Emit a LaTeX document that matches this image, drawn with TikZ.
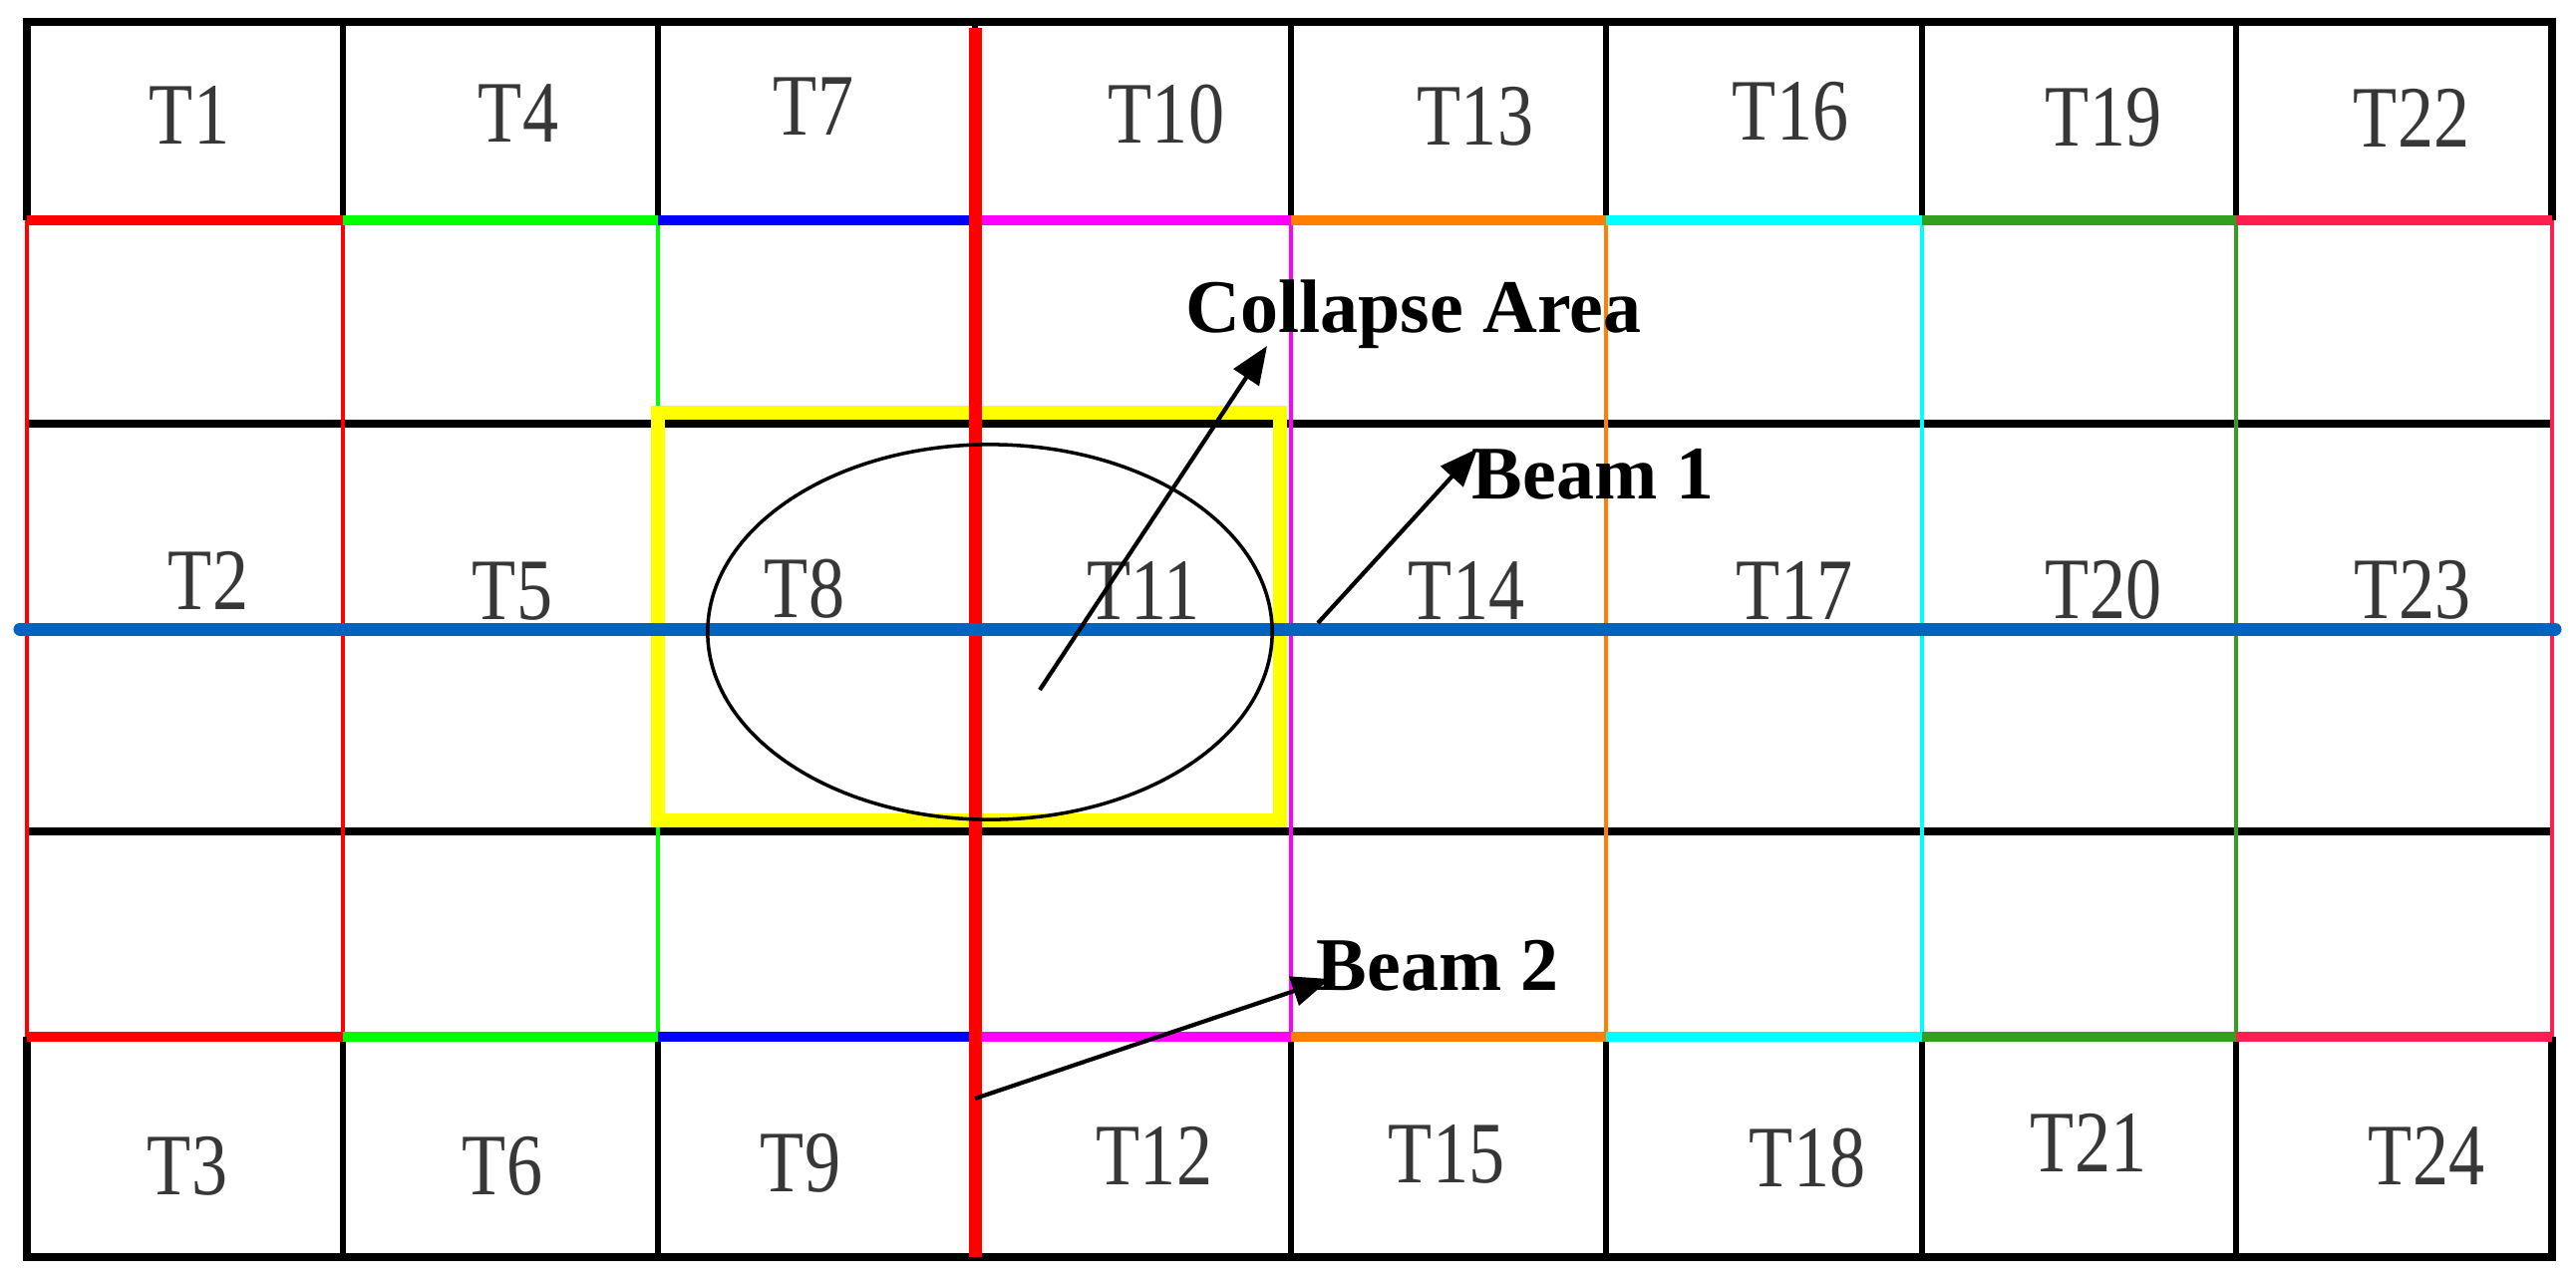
\documentclass[tikz,border=0pt]{standalone}
\usepackage{fontspec}
\setmainfont{Liberation Serif}
\newfontfamily\cellfont[FakeStretch=0.82]{Liberation Serif}
\usetikzlibrary{arrows.meta}
\definecolor{cRed}{RGB}{255,0,0}
\definecolor{cGreen}{RGB}{0,255,0}
\definecolor{cBlue}{RGB}{0,0,255}
\definecolor{cMagenta}{RGB}{255,0,255}
\definecolor{cOrange}{RGB}{255,128,0}
\definecolor{cCyan}{RGB}{0,255,255}
\definecolor{cDkGreen}{RGB}{50,160,30}
\definecolor{cCrimson}{RGB}{255,30,80}
\definecolor{cYellow}{RGB}{255,255,0}
\definecolor{cBeam}{RGB}{0,100,190}
\definecolor{labelgray}{RGB}{55,55,55}
\begin{document}
\begin{tikzpicture}[x=0.01cm,y=-0.01cm,
  cell/.style={font=\cellfont\fontsize{25}{30}\selectfont, text=labelgray, inner sep=0pt},
  callout/.style={font=\bfseries\fontsize{21.6}{26}\selectfont, inner sep=0pt, anchor=base west},
  border/.style={line width=2.1pt, black},
  gridv/.style={line width=1.6pt, black},
  gridh/.style={line width=2pt, black},
  frameh/.style={line width=2.6pt},
  framev/.style={line width=1.4pt},
  axis/.style={line width=3.7pt, cRed},
  zone/.style={line width=4pt, cYellow},
  beamline/.style={line width=3.7pt, cBeam, line cap=round},
  pointer/.style={line width=1.2pt, black, -{Triangle[length=0.38cm, width=0.3cm]}}]
\useasboundingbox (0,0) rectangle (2584,1281);
\fill[white] (0,0) rectangle (2584,1281);
% black grid lines in the middle region
\draw[gridh] (27,425) -- (2560,425);
\draw[gridh] (27,834) -- (2560,834);
% top and bottom row verticals
\foreach \x in {344,660,978,1295,1611,1928,2243} {
  \draw[gridv] (\x,22) -- (\x,221);
  \draw[gridv] (\x,1040) -- (\x,1261);
}
% outer border
\draw[border] (27,221) -- (27,22) -- (2560,22) -- (2560,221);
\draw[border] (27,1040) -- (27,1261) -- (2560,1261) -- (2560,1040);
% coloured frames
\draw[framev,cRed] (27,221) -- (27,1040);
\foreach \a/\b/\c in {27/344/cRed, 344/660/cGreen, 660/978/cBlue, 978/1295/cMagenta, 1295/1611/cOrange, 1611/1928/cCyan, 1928/2243/cDkGreen, 2243/2560/cCrimson} {
  \draw[framev,\c] (\b,221) -- (\b,1040);
  \draw[frameh,\c] (\a,221) -- (\b,221);
  \draw[frameh,\c] (\a,1040) -- (\b,1040);
}
% yellow collapse zone
\draw[zone] (660,414) rectangle (1284,823);
% red axis
\draw[axis] (978,28) -- (978,1261);
% beam line
\draw[beamline] (20,631) -- (2563,631);
% ellipse
\draw[line width=1pt, black] (993,634) ellipse [x radius=2.83cm, y radius=1.88cm];
% cell labels
\node[cell] (t1) at (190,115) {T1};
\node[cell] (t4) at (520,114) {T4};
\node[cell] (t7) at (816,107) {T7};
\node[cell] (t10) at (1170,115) {T10};
\node[cell] (t13) at (1480,117) {T13};
\node[cell] (t16) at (1796,112) {T16};
\node[cell] (t19) at (2110,118) {T19};
\node[cell] (t22) at (2419,118) {T22};
\node[cell] (t2) at (209,582) {T2};
\node[cell] (t5) at (514,593) {T5};
\node[cell] (t8) at (807,591) {T8};
\node[cell] (t11) at (1147,592) {T11};
\node[cell] (t14) at (1471,592) {T14};
\node[cell] (t17) at (1800,592) {T17};
\node[cell] (t20) at (2110,592) {T20};
\node[cell] (t23) at (2420,592) {T23};
\node[cell] (t3) at (188,1170) {T3};
\node[cell] (t6) at (504,1170) {T6};
\node[cell] (t9) at (803,1167) {T9};
\node[cell] (t12) at (1158,1159) {T12};
\node[cell] (t15) at (1451,1158) {T15};
\node[cell] (t18) at (1813,1162) {T18};
\node[cell] (t21) at (2095,1146) {T21};
\node[cell] (t24) at (2434,1159) {T24};
% callouts
\node[callout] (collapse) at (1189,333) {Collapse Area};
\node[callout] (beam1) at (1476,500) {Beam 1};
\node[callout] (beam2) at (1320,993) {Beam 2};
\coordinate (cstart) at (1043,692);
\coordinate (ctip) at (1271,347);
\coordinate (b1start) at (1322,625);
\coordinate (b1tip) at (1482,450);
\coordinate (b2start) at (978,1102);
\coordinate (b2tip) at (1334,982);
\draw[pointer] (cstart) -- (ctip);
\draw[pointer] (b1start) -- (b1tip);
\draw[pointer] (b2start) -- (b2tip);
\end{tikzpicture}
\end{document}
